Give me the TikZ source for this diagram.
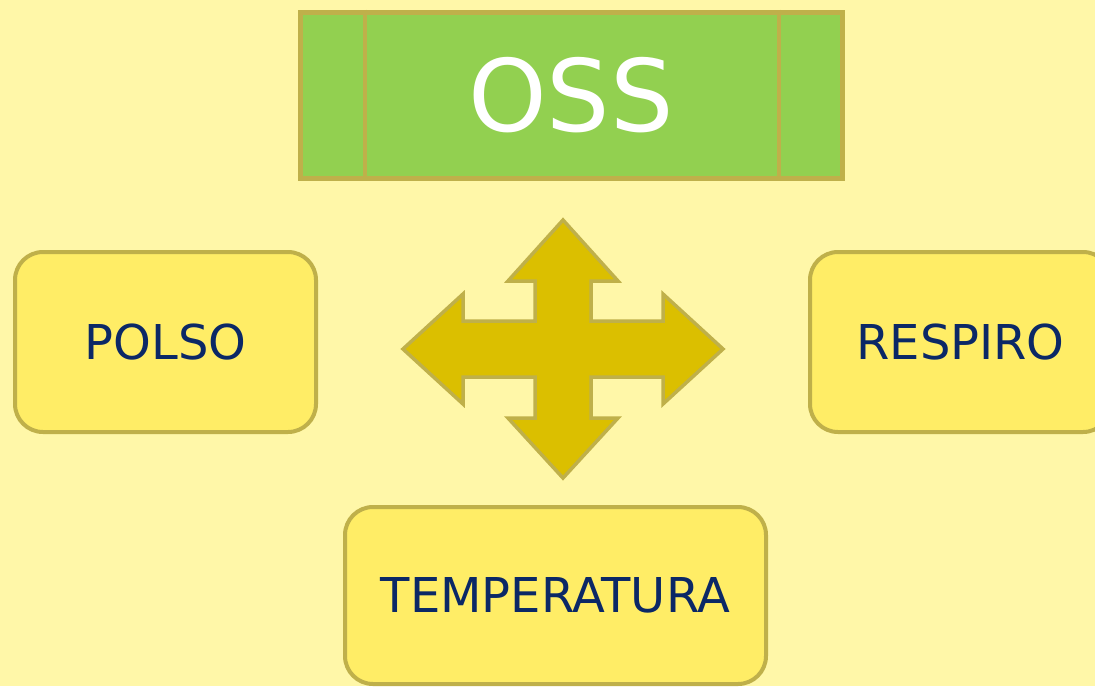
\documentclass[tikz,border=0pt]{standalone}
\usepackage{fontspec}
\setmainfont{DejaVu Sans}
\definecolor{bgyellow}{HTML}{FFF7A8}
\definecolor{boxyellow}{HTML}{FFED66}
\definecolor{rimolive}{HTML}{BFB04A}
\definecolor{ossgreen}{HTML}{92D050}
\definecolor{arrowgold}{HTML}{DBBF00}
\definecolor{labelnavy}{HTML}{0B2866}
\tikzset{
    signbox/.style = {draw = rimolive, line width = 4pt, fill = boxyellow, rounded corners = 28pt,
        text = labelnavy, font = \fontsize{48}{58}\selectfont, inner sep = 0pt}
}
\begin{document}
\begin{tikzpicture}[x = 1pt, y = -1pt]
        \fill [bgyellow] (0, 0) rectangle (1095, 686);
        \useasboundingbox (0, 0) rectangle (1095, 686);
        \node [draw = rimolive, line width = 5pt, fill = ossgreen, minimum width = 542pt, minimum height = 166pt,
            text = white, font = \fontsize{100}{120}\selectfont, inner sep = 0pt] (oss) at (571, 95) {OSS};
        \draw [rimolive, line width = 4pt] ([xshift = 67pt] oss.north west) -- ([xshift = 67pt] oss.south west);
        \draw [rimolive, line width = 4pt] ([xshift = -66pt] oss.north east) -- ([xshift = -66pt] oss.south east);
        \draw [fill = arrowgold, draw = rimolive, line width = 3.5pt, line join = miter, shift = {(563, 349)}]
            (0, -129) -- (55, -68) -- (28, -68) -- (28, -28) -- (100, -28) -- (100, -55) -- (160, 0)
            -- (100, 55) -- (100, 28) -- (28, 28) -- (28, 69) -- (55, 69) -- (0, 129)
            -- (-55, 69) -- (-28, 69) -- (-28, 28) -- (-100, 28) -- (-100, 55) -- (-160, 0)
            -- (-100, -55) -- (-100, -28) -- (-28, -28) -- (-28, -68) -- (-55, -68) -- cycle;
        \node [signbox, minimum width = 301pt, minimum height = 180pt] (polso) at (165.5, 342) {POLSO};
        \node [signbox, minimum width = 301pt, minimum height = 180pt] (respiro) at (960.5, 342) {RESPIRO};
        \node [signbox, minimum width = 421pt, minimum height = 177pt] (temperatura) at (555.5, 595.5) {TEMPERATURA};
    \end{tikzpicture}
\end{document}
